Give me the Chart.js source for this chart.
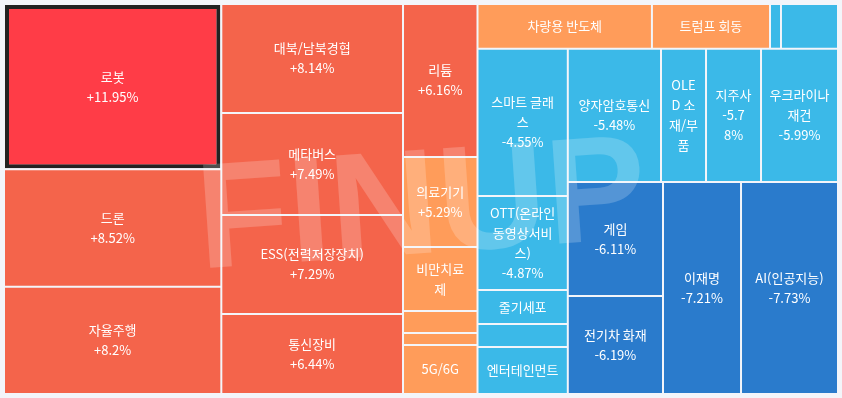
<!DOCTYPE html>
<html lang="ko">
<head>
<meta charset="utf-8">
<title>테마 등락률 트리맵</title>
<script src="https://cdn.jsdelivr.net/npm/chart.js@4.4.1/dist/chart.umd.min.js"></script>
<style>
  html, body { margin: 0; padding: 0; background: #f3f5fa; }
  #wrap { position: relative; width: 842px; height: 398px; }
</style>
</head>
<body>
<div id="wrap"><canvas id="themeMap"></canvas></div>
<script>
// theme names, in the order the tiles are laid out (by change, high to low)
const themes = [
  '로봇', '드론', '자율주행', '대북/남북경협', '메타버스', 'ESS(전력저장장치)', '통신장비',
  '리튬', '의료기기', '비만치료제', '원자력발전', '방위산업', '5G/6G',
  '차량용 반도체', '트럼프 회동', '조선', '우주항공',
  '스마트 글래스', 'OTT(온라인동영상서비스)', '줄기세포', '화장품', '엔터테인먼트',
  '양자암호통신', 'OLED 소재/부품', '지주사', '우크라이나 재건',
  '게임', '전기차 화재', '이재명', 'AI(인공지능)'
];
// daily change, %
const changes = [
  11.95, 8.52, 8.2, 8.14, 7.49, 7.29, 6.44,
  6.16, 5.29, 5.12, 4.98, 4.71, 4.55,
  3.85, 2.64, -1.92, -3.47,
  -4.55, -4.87, -4.92, -5.05, -5.31,
  -5.48, -5.63, -5.78, -5.99,
  -6.11, -6.19, -7.21, -7.73
];
// tile weight (area)
const sizes = [
  35920, 25510, 23320, 19800, 18530, 17990, 14540,
  11400, 6700, 4770, 1640, 890, 3650,
  7800, 5280, 490, 2550,
  13300, 8490, 3070, 2080, 4240,
  12420, 6000, 7330, 10260,
  10850, 9330, 16540, 20560
];
const selectedTheme = '로봇';

const SQUARE_RATIO = 0.5 * (1 + Math.sqrt(5));
const GAP = 2;
const FONT = '13px "Noto Sans CJK KR", "Noto Sans", sans-serif';
const LINE_H = 20;
const PAD_X = 6.9;
const PAD_Y = 5.75;

function tileColor(c) {
  if (c >= 10) return '#ff3c47';
  if (c >= 6) return '#f4644b';
  if (c >= 0) return '#ff9c5a';
  if (c > -6) return '#3bb9e8';
  return '#2a7bcc';
}

function pctText(c) {
  return (c > 0 ? '+' : '') + c + '%';
}

// squarified layout (rows picked with a golden-ratio preference), order kept
function worst(row, rowArea, fixed) {
  let mx = 0, mn = Infinity;
  row.forEach(r => { mx = Math.max(mx, r.area); mn = Math.min(mn, r.area); });
  const sq = rowArea * rowArea;
  const f = fixed * fixed * SQUARE_RATIO;
  return Math.max(f * mx / sq, sq / (f * mn));
}

function placeRow(row, rowArea, fixed, rect, flush, out) {
  const horiz = fixed === rect.w;
  const room = horiz ? rect.h : rect.w;
  let thick = rowArea / fixed;
  if (flush || thick > room) thick = room;
  let pos = horiz ? rect.x : rect.y;
  const end = horiz ? rect.x + rect.w : rect.y + rect.h;
  row.forEach((r, k) => {
    const len = k === row.length - 1 ? end - pos : r.area / thick;
    out[r.i] = horiz
      ? { x: pos, y: rect.y, w: len, h: thick }
      : { x: rect.x, y: pos, w: thick, h: len };
    pos += len;
  });
  if (horiz) { rect.y += thick; rect.h -= thick; }
  else { rect.x += thick; rect.w -= thick; }
}

function squarify(values, aspect) {
  const total = values.reduce((a, b) => a + b, 0);
  const rect = { x: 0, y: 0, w: aspect, h: 1 };
  const queue = values.map((v, i) => ({ i, area: v * aspect / total }));
  const out = [];
  let row = [], rowArea = 0, best = Infinity;
  let fixed = Math.min(rect.w, rect.h);
  while (queue.length) {
    const item = queue[0];
    row.push(item);
    rowArea += item.area;
    const score = worst(row, rowArea, fixed);
    if (row.length === 1 || score <= best) {
      queue.shift();
      best = score;
    } else {
      row.pop();
      rowArea -= item.area;
      placeRow(row, rowArea, fixed, rect, false, out);
      fixed = Math.min(rect.w, rect.h);
      row = []; rowArea = 0; best = Infinity;
    }
  }
  if (row.length) placeRow(row, rowArea, fixed, rect, true, out);
  return out;
}

class TreemapController extends Chart.DatasetController {
  parse() {}

  update(mode) {
    const meta = this._cachedMeta;
    this.updateElements(meta.data, 0, meta.data.length, mode);
  }

  updateElements(tiles, start, count, mode) {
    const { xScale, yScale } = this._cachedMeta;
    const values = this.getDataset().data;
    const pw = Math.abs(xScale.getPixelForValue(1) - xScale.getPixelForValue(0));
    const ph = Math.abs(yScale.getPixelForValue(1) - yScale.getPixelForValue(0));
    let aspect = pw / ph;
    if (!isFinite(aspect) || aspect <= 0) aspect = 1;
    const cells = squarify(values, aspect);
    for (let i = start; i < start + count; i++) {
      const c = cells[i];
      const left = xScale.getPixelForValue(c.x / aspect);
      const right = xScale.getPixelForValue((c.x + c.w) / aspect);
      const top = yScale.getPixelForValue(c.y);
      const bottom = yScale.getPixelForValue(c.y + c.h);
      this.updateElement(tiles[i], i, {
        x: (left + right) / 2,
        width: right - left - GAP,
        y: top + GAP / 2,
        base: bottom - GAP / 2,
        horizontal: false,
        borderSkipped: {},
        inflateAmount: 0,
        options: this.resolveDataElementOptions(i, mode)
      }, mode);
    }
  }
}
TreemapController.id = 'treemap';
TreemapController.defaults = { datasetElementType: false, dataElementType: 'bar' };
Chart.register(TreemapController);

// break like the browser does for Korean: anywhere, but never before ) / % . ,
const NO_LINE_START = ')/%.,';
function wrapText(ctx, text, maxW) {
  const lines = [];
  let line = '';
  for (const ch of Array.from(text)) {
    const test = line + ch;
    if (line === '' || ctx.measureText(test.trimEnd()).width <= maxW) {
      line = test;
      continue;
    }
    if (ch === ' ') { lines.push(line.trimEnd()); line = ''; continue; }
    if (NO_LINE_START.includes(ch) && line.length > 1) {
      lines.push(line.slice(0, -1).trimEnd());
      line = line.slice(-1) + ch;
      continue;
    }
    lines.push(line.trimEnd());
    line = ch;
  }
  if (line.trim()) lines.push(line.trimEnd());
  return lines;
}

const tileLabels = {
  id: 'tileLabels',
  afterDatasetsDraw(chart) {
    const ctx = chart.ctx;
    const area = chart.chartArea;

    // FINUP watermark
    ctx.save();
    ctx.translate((area.left + area.right) / 2, (area.top + area.bottom) / 2);
    ctx.rotate(-4 * Math.PI / 180);
    ctx.font = 'bold 150px "Liberation Sans", Arial, sans-serif';
    ctx.fillStyle = 'rgba(255,255,255,0.2)';
    ctx.textAlign = 'center';
    ctx.textBaseline = 'alphabetic';
    ctx.fillText('FINUP', 0, 54);
    ctx.restore();

    const meta = chart.getDatasetMeta(0);
    ctx.save();
    ctx.font = FONT;
    ctx.fillStyle = '#ffffff';
    ctx.textAlign = 'center';
    ctx.textBaseline = 'middle';
    meta.data.forEach((el, i) => {
      const w = el.width;
      const h = el.base - el.y;
      const maxW = w - 2 * PAD_X;
      const maxLines = Math.floor((h - 2 * PAD_Y) / LINE_H);
      if (maxLines < 1) return;
      const nameLines = wrapText(ctx, themes[i], maxW);
      if (nameLines.length > maxLines) return;
      const pctLines = wrapText(ctx, pctText(changes[i]), maxW);
      const lines = nameLines.length + pctLines.length <= maxLines
        ? nameLines.concat(pctLines) : nameLines;
      const y0 = el.y + (h - lines.length * LINE_H) / 2;
      lines.forEach((t, k) => ctx.fillText(t, el.x, y0 + LINE_H * (k + 0.5)));
    });
    ctx.restore();
  }
};

new Chart(document.getElementById('themeMap'), {
  type: 'treemap',
  data: {
    labels: themes,
    datasets: [{
      label: '테마 등락률',
      data: sizes,
      backgroundColor: ctx => tileColor(changes[ctx.dataIndex]),
      borderColor: '#222222',
      borderWidth: ctx => (themes[ctx.dataIndex] === selectedTheme ? 4 : 0)
    }]
  },
  options: {
    responsive: true,
    maintainAspectRatio: false,
    devicePixelRatio: 1,
    animation: false,
    events: [],
    layout: { padding: { left: 4, right: 4, top: 4, bottom: 4 } },
    scales: {
      x: { type: 'linear', min: 0, max: 1, display: false },
      y: { type: 'linear', min: 0, max: 1, reverse: true, display: false }
    },
    plugins: {
      legend: { display: false },
      tooltip: { enabled: false }
    }
  },
  plugins: [tileLabels]
});
</script>
</body>
</html>
